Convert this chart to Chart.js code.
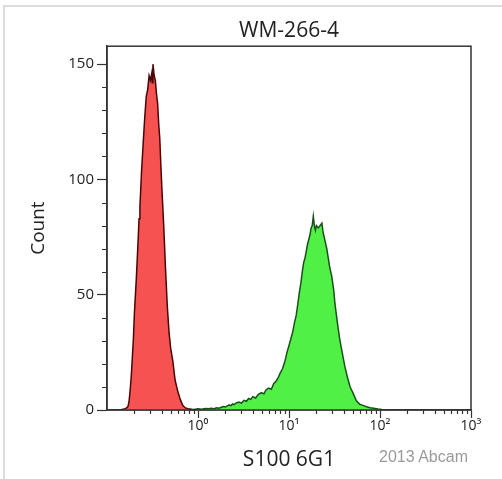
<!DOCTYPE html>
<html lang="en">
  <head>
    <meta charset="UTF-8" />
    <title>WM-266-4</title>
    <script src="https://cdn.jsdelivr.net/npm/chart.js"></script>
    <style>
      body { margin: 0; background: #fff; }
      #wrap { position: relative; width: 502px; height: 479px; overflow: hidden; }
      #frame {
        position: absolute; left: 3px; top: 5px; right: -4px; bottom: -4px;
        border-left: 2px solid #dcdcdc; border-top: 2px solid #dcdcdc;
      }
      #chart { position: absolute; left: 0; top: 0; }
      #mark {
        position: absolute; left: 379px; top: 449px;
        font: 16px "Liberation Sans", Arial, sans-serif; line-height: 1;
        color: #9a9a9a;
      }
    </style>
  </head>
  <body>
    <div id="wrap">
      <div id="frame"></div>
      <canvas id="chart" width="502" height="479"></canvas>
      <div id="mark">2013 Abcam</div>
    </div>
    <script>
      // isotype control (red)
      const redX = [0.14, 0.15, 0.16, 0.165, 0.17, 0.175, 0.18, 0.185, 0.19, 0.195,
        0.2, 0.21, 0.22, 0.225, 0.23, 0.24, 0.25, 0.26, 0.27, 0.28,
        0.29, 0.3, 0.31, 0.315, 0.32, 0.33, 0.34, 0.35, 0.36, 0.37,
        0.38, 0.39, 0.4, 0.42, 0.44, 0.46, 0.48, 0.5, 0.53, 0.56,
        0.6, 0.64, 0.68, 0.72, 0.77, 0.85, 0.95];
      const redY = [0, 0.3, 0.6, 1, 1.5, 4, 9, 15, 23, 31,
        42, 57, 74, 83, 88, 104, 116, 127, 136, 139,
        145, 143, 146, 142, 150, 145, 143, 137, 133, 124,
        118, 107, 97, 80, 61, 45, 34, 27, 21, 13,
        8, 4.5, 2, 1, 0.6, 0.2, 0];

      // S100 6G1 stained (green)
      const greenX = [0.8, 0.9, 1.0, 1.1, 1.2, 1.3, 1.4, 1.5, 1.6, 1.7,
        1.8, 1.9, 2.0, 2.1, 2.2, 2.3, 2.4, 2.5, 2.6, 2.8,
        3.0, 3.2, 3.4, 3.6, 3.8, 4.0, 4.3, 4.6, 5.0, 5.3,
        5.6, 6.0, 6.4, 6.8, 7.2, 7.6, 8.0, 8.5, 9.0, 9.5,
        10, 10.5, 11, 11.5, 12, 12.5, 13, 13.5, 14, 14.5,
        15, 15.5, 16, 16.5, 17, 17.5, 18, 18.5, 19, 19.5,
        20, 21, 22, 23, 23.5, 24, 25, 26, 27, 28,
        29.5, 31, 32, 34, 36, 38, 41, 44, 47, 51,
        55, 60, 65, 71, 78, 85, 95, 105, 120];
      const greenY = [0.3, 0.2, 0.5, 0.3, 0.6, 0.5, 0.8, 0.6, 1.0, 0.8,
        1.2, 1.5, 1.3, 1.8, 2.2, 1.9, 2.6, 2.3, 3.0, 3.4,
        3.0, 4.2, 3.8, 5.0, 4.6, 5.8, 5.2, 6.8, 7.5, 7.0,
        8.8, 9.5, 9.0, 11.5, 12.5, 14, 16, 18, 21, 25,
        28, 31, 34, 38, 41, 46, 51, 55, 60, 64,
        66, 69, 72, 74, 76, 79, 80, 84, 80, 78,
        80, 79, 80, 81, 78, 76, 73, 70, 66, 62,
        58, 52, 46, 38, 31, 26, 19, 14, 10, 7,
        4, 2.5, 2, 1.4, 1.0, 0.8, 0.4, 0.2, 0];

      const xMajor = [1, 10, 100, 1000];
      const xTickLabels = ["10⁰", "10¹", "10²", "10³"];
      const yMajor = [0, 50, 100, 150];

      const toPoints = (xs, ys) => xs.map((x, i) => ({ x: x, y: ys[i] }));

      const isMajorX = (v) => xMajor.some((m) => Math.abs(m - v) < m * 1e-6);
      const isMajorY = (v) => yMajor.includes(v);

      // box round the plot area + short minor ticks against the axes
      const frameBox = {
        id: "frameBox",
        afterDraw(chart) {
          const { ctx, chartArea: a } = chart;
          const xs = chart.scales.x;
          const ys = chart.scales.y;
          ctx.save();
          ctx.strokeStyle = "#333";
          ctx.lineWidth = 1.5;
          ctx.strokeRect(a.left, a.top, a.right - a.left, a.bottom - a.top);
          ctx.lineWidth = 1.2;
          ctx.beginPath();
          xs.ticks.forEach((t) => {
            if (isMajorX(t.value)) return;
            const px = Math.round(xs.getPixelForValue(t.value)) + 0.5;
            ctx.moveTo(px, a.bottom);
            ctx.lineTo(px, a.bottom + 4);
          });
          ys.ticks.forEach((t) => {
            if (isMajorY(t.value)) return;
            const py = Math.round(ys.getPixelForValue(t.value)) + 0.5;
            ctx.moveTo(a.left, py);
            ctx.lineTo(a.left - 5, py);
          });
          ctx.stroke();
          ctx.restore();
        },
      };

      const font = "'Open Sans', 'DejaVu Sans', sans-serif";

      new Chart(document.getElementById("chart"), {
        type: "line",
        data: {
          datasets: [
            {
              label: "Isotype",
              data: toPoints(redX, redY),
              borderColor: "#4a0606",
              backgroundColor: "#f65252",
              borderWidth: 1.5,
              pointRadius: 0,
              fill: "origin",
            },
            {
              label: "S100 6G1",
              data: toPoints(greenX, greenY),
              borderColor: "#1a501a",
              backgroundColor: "#50f046",
              borderWidth: 1.5,
              pointRadius: 0,
              fill: "origin",
            },
          ],
        },
        options: {
          responsive: false,
          animation: false,
          layout: { padding: { left: 0, right: 31, top: 0, bottom: 0 } },
          plugins: {
            legend: { display: false },
            tooltip: { enabled: false },
            title: {
              display: true,
              text: "WM-266-4",
              fullSize: false,
              color: "#222",
              font: { family: font, size: 21, weight: "normal" },
              padding: { top: 18, bottom: 3 },
            },
          },
          scales: {
            x: {
              type: "logarithmic",
              min: 0.1,
              max: 1000,
              border: { color: "#333", width: 1.5 },
              grid: {
                drawOnChartArea: false,
                tickLength: 8,
                tickWidth: 1.2,
                tickColor: (c) => (c.tick && isMajorX(c.tick.value) ? "#333" : "rgba(0,0,0,0)"),
              },
              afterBuildTicks: (scale) => {
                const ticks = [];
                [0.1, 1, 10, 100].forEach((d) => {
                  for (let k = 1; k < 10; k++) {
                    if (d === 0.1 && k === 1) continue;
                    ticks.push({ value: k * d });
                  }
                });
                ticks.push({ value: 1000 });
                scale.ticks = ticks;
              },
              afterFit: (scale) => {
                scale.height = 69;
              },
              ticks: {
                autoSkip: false,
                maxRotation: 0,
                padding: 0,
                color: "#222",
                font: { family: font, size: 14 },
                callback: (v) => {
                  const i = xMajor.findIndex((m) => Math.abs(m - v) < m * 1e-6);
                  return i >= 0 ? xTickLabels[i] : "";
                },
              },
              title: {
                display: true,
                text: "S100 6G1",
                color: "#222",
                font: { family: font, size: 21 },
                padding: { top: 0, bottom: 6 },
              },
            },
            y: {
              min: 0,
              max: 157.8,
              border: { color: "#333", width: 1.5 },
              grid: {
                drawOnChartArea: false,
                tickLength: 10,
                tickWidth: 1.2,
                tickColor: (c) => (c.tick && isMajorY(c.tick.value) ? "#333" : "rgba(0,0,0,0)"),
              },
              afterBuildTicks: (scale) => {
                const ticks = [];
                for (let v = 0; v <= 150; v += 10) ticks.push({ value: v });
                scale.ticks = ticks;
              },
              afterFit: (scale) => {
                scale.width = 107;
              },
              ticks: {
                autoSkip: false,
                padding: 3,
                color: "#222",
                font: { family: font, size: 15 },
                callback: (v) => (isMajorY(v) ? String(v) : ""),
              },
              title: {
                display: true,
                text: "Count",
                color: "#222",
                font: { family: font, size: 19 },
                padding: { top: 27, bottom: 0 },
              },
            },
          },
        },
        plugins: [frameBox],
      });
    </script>
  </body>
</html>
